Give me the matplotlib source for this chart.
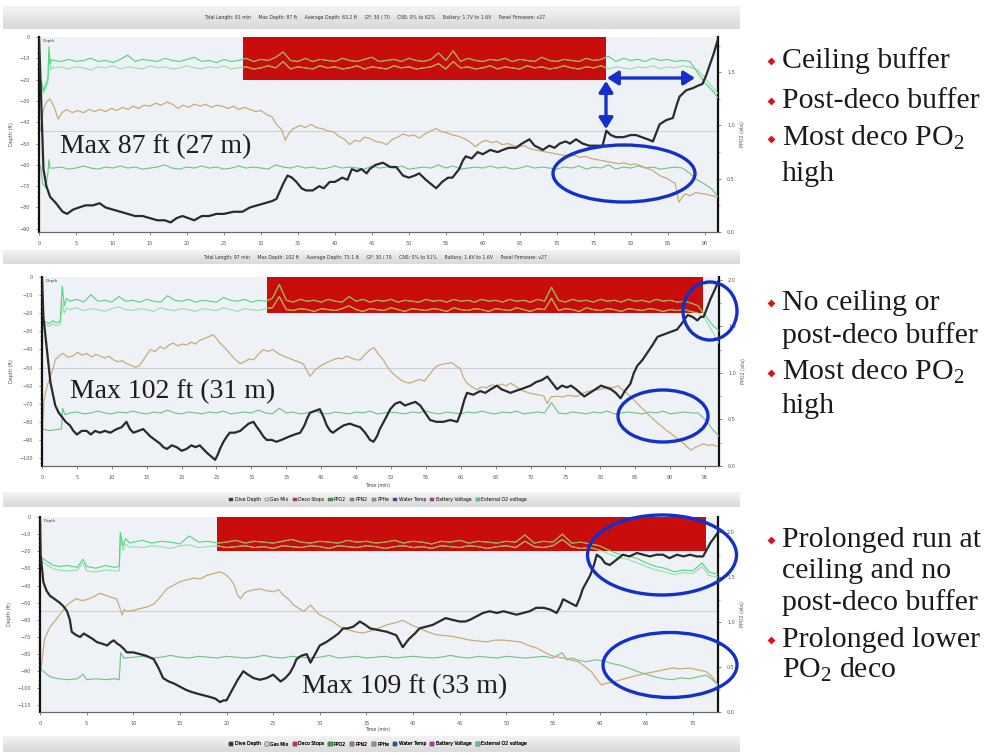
import numpy as np
import matplotlib
matplotlib.use('Agg')
import matplotlib.pyplot as plt
from matplotlib.patches import Rectangle, Ellipse, Patch
from matplotlib.ticker import MultipleLocator

plt.rcParams['mathtext.fontset'] = 'custom'
plt.rcParams['mathtext.rm'] = 'Liberation Serif'
plt.rcParams['mathtext.it'] = 'Liberation Serif:italic'
plt.rcParams['mathtext.default'] = 'rm'

# ------------------------------------------------------------------ DATA
HEADERS = [
    "Total Length: 91 min     Max Depth: 87 ft     Average Depth: 63.2 ft     GF: 30 / 70     CNS: 0% to 62%     Battery: 1.7V to 1.6V     Panel Firmware: v27",
    "Total Length: 97 min     Max Depth: 102 ft     Average Depth: 75.1 ft     GF: 30 / 70     CNS: 0% to 51%     Battery: 1.6V to 1.6V     Panel Firmware: v27",
]
LEGEND_LABELS = ["Dive Depth", "Gas Mix", "Deco Stops", "PPO2", "PPN2", "PPHe",
                 "Water Temp", "Battery Voltage", "External O2 voltage"]
LEGEND_COLORS = ["#333333", "#bcdcf4", "#d03030", "#2fa34a", "#a8884a", "#9a9a9a",
                 "#1f4fc0", "#c02cc0", "#66d68a"]
MAX_LABELS = ["Max 87 ft (27 m)", "Max 102 ft (31 m)", "Max 109 ft (33 m)"]
NOTES = [
    [("Ceiling buffer", True), ("Post-deco buffer", True), ("Most deco PO$_2$", True), ("high", False)],
    [("No ceiling or", True), ("post-deco buffer", False), ("Most deco PO$_2$", True), ("high", False)],
    [("Prolonged run at", True), ("ceiling and no", False), ("post-deco buffer", False),
     ("Prolonged lower", True), ("PO$_2$ deco", False)],
]
X_LABEL = "Time (min)"

# deco stop box: (start min, end min, stop depth ft)
P1_DECO = (27.6, 76.6, -20)
P2_DECO = (32.2, 94.7, -20)
P3_DECO = (19.0, 71.4, -20)

# ---- panel 1 (91 min dive)
P1_DEPTH = [(0, 0), (0.3, -30), (0.6, -62), (1.0, -70), (1.5, -75), (2.3, -78), (3.2, -82), (3.8, -83),
            (4.6, -81), (5.4, -80), (6.3, -79), (7.3, -79), (8.2, -78), (9.0, -80), (10.0, -81), (11.0, -82),
            (12.0, -83), (13.0, -84), (14.0, -84), (15.0, -85), (16.0, -86), (17.0, -86), (17.8, -87),
            (18.6, -85), (19.4, -84), (20.2, -85), (21.0, -86), (22.0, -84), (23.0, -84), (24.0, -83),
            (25.0, -83), (26.3, -82), (27.5, -82), (28.5, -80), (29.5, -79), (30.5, -78), (31.5, -77),
            (32.1, -76), (33.0, -69), (33.6, -65), (34.2, -66), (34.8, -68), (35.5, -71), (36.1, -72),
            (37.0, -72), (37.9, -70), (38.5, -71), (39.3, -68), (40.0, -68), (41.0, -66), (41.7, -67),
            (42.3, -62), (43.0, -63), (43.6, -62), (44.3, -64), (44.7, -62), (45.5, -60), (46.5, -59),
            (47.5, -61), (48.3, -61), (49.2, -65), (50.0, -66), (50.8, -65), (51.4, -64), (52.3, -67),
            (53.0, -69), (53.7, -71), (54.5, -68), (55.3, -66), (55.9, -66), (56.8, -62), (57.3, -58),
            (57.7, -56), (58.5, -57), (59.3, -54), (60.0, -55), (61.0, -53), (62.0, -54), (62.7, -53),
            (63.5, -52), (64.5, -52), (65.3, -50), (66.3, -48), (67.0, -51), (67.6, -52), (68.1, -53),
            (69.0, -51), (69.7, -52), (70.4, -50), (71.2, -49), (71.8, -50), (72.6, -48), (73.5, -50),
            (74.4, -51), (75.3, -51), (76.2, -51), (76.7, -44), (77.3, -46), (78.0, -47), (79.0, -47),
            (80.0, -46), (80.7, -46), (81.5, -47), (82.3, -48), (83.0, -49), (83.9, -41), (84.8, -39),
            (85.7, -38), (86.2, -32), (86.6, -28), (87.5, -25), (88.4, -24), (89.0, -23), (89.7, -22),
            (90.2, -18), (90.6, -14), (91.2, -8), (91.8, -1)]
P1_GA_START = [(0, 1.30), (0.3, 1.42), (0.6, 1.33), (0.9, 1.38), (1.2, 1.44), (1.35, 1.74), (1.5, 1.58), (1.7, 1.62)]
P1_GA_GRID = [1.61, 1.60, 1.62, 1.60, 1.61, 1.63, 1.60, 1.61, 1.59, 1.62,
              1.66, 1.60, 1.62, 1.61, 1.60, 1.63, 1.61, 1.60, 1.62, 1.64,
              1.60, 1.61, 1.59, 1.62, 1.60, 1.61, 1.63, 1.60, 1.62, 1.61,
              1.64, 1.69, 1.61, 1.60, 1.63, 1.60, 1.62, 1.61, 1.60, 1.63,
              1.61, 1.60, 1.62, 1.64, 1.60, 1.61, 1.62, 1.60, 1.63, 1.61,
              1.60, 1.62, 1.68, 1.61, 1.70, 1.60, 1.63, 1.61, 1.60, 1.62,
              1.61, 1.63, 1.60, 1.62, 1.61, 1.60, 1.64, 1.61, 1.60, 1.62,
              1.61, 1.60, 1.63, 1.61, 1.62, 1.65, 1.60, 1.63, 1.61, 1.62,
              1.60, 1.63, 1.61, 1.62, 1.60, 1.61, 1.60]
P1_GA_END = [(89, 1.50), (90, 1.40), (91, 1.33), (91.8, 1.26)]
P1_GB_START = [(0, 1.28), (0.3, 1.38), (0.6, 1.30), (0.9, 1.35), (1.2, 1.40), (1.4, 1.62), (1.6, 1.52), (1.8, 1.55)]
P1_GB_GRID = [1.54, 1.55, 1.53, 1.55, 1.54, 1.52, 1.55, 1.54, 1.56, 1.53,
              1.55, 1.54, 1.53, 1.56, 1.54, 1.55, 1.53, 1.54, 1.56, 1.54,
              1.53, 1.55, 1.54, 1.56, 1.53, 1.54, 1.55, 1.53, 1.54, 1.56,
              1.54, 1.60, 1.53, 1.55, 1.54, 1.53, 1.56, 1.54, 1.55, 1.53,
              1.54, 1.56, 1.53, 1.55, 1.54, 1.53, 1.56, 1.54, 1.55, 1.53,
              1.54, 1.55, 1.58, 1.53, 1.60, 1.54, 1.55, 1.53, 1.54, 1.56,
              1.53, 1.55, 1.54, 1.53, 1.56, 1.54, 1.55, 1.53, 1.54, 1.56,
              1.54, 1.53, 1.55, 1.54, 1.56, 1.53, 1.55, 1.54, 1.53, 1.55,
              1.54, 1.56, 1.53, 1.55, 1.54, 1.56, 1.55]
P1_GB_END = [(89, 1.52), (90, 1.45), (91, 1.36), (91.8, 1.30)]
P1_LOW_START = [(0.2, 0.62), (0.5, 0.45), (0.9, 0.42), (1.2, 0.55), (1.35, 0.68), (1.5, 0.60)]
P1_LOW_GRID = [0.60, 0.61, 0.59, 0.60, 0.62, 0.60, 0.59, 0.61, 0.60, 0.62,
               0.60, 0.61, 0.59, 0.60, 0.61, 0.63, 0.60, 0.59, 0.61, 0.60,
               0.62, 0.60, 0.61, 0.59, 0.60, 0.62, 0.60, 0.61, 0.60, 0.59,
               0.63, 0.61, 0.60, 0.62, 0.60, 0.61, 0.59, 0.60, 0.62, 0.60,
               0.61, 0.60, 0.59, 0.62, 0.60, 0.61, 0.60, 0.62, 0.59, 0.60,
               0.61, 0.60, 0.63, 0.60, 0.62, 0.59, 0.60, 0.61, 0.60, 0.62,
               0.60, 0.61, 0.59, 0.60, 0.62, 0.60, 0.61, 0.60, 0.59, 0.61,
               0.60, 0.62, 0.59, 0.61, 0.60, 0.63, 0.59, 0.61, 0.60, 0.62,
               0.60, 0.61, 0.59, 0.60, 0.61, 0.60]
P1_LOW_END = [(88, 0.55), (89, 0.49), (90, 0.45), (91, 0.40), (91.8, 0.33)]
P1_TAN = [(0.2, 0.95), (0.6, 1.15), (1.0, 1.22), (1.5, 1.25), (2.0, 1.18), (2.6, 1.06), (3.1, 1.12), (3.7, 1.15),
          (4.5, 1.12), (5.2, 1.14), (6.0, 1.12), (6.8, 1.15), (7.5, 1.13), (8.2, 1.15), (9.0, 1.13), (9.8, 1.16),
          (10.5, 1.14), (11.3, 1.17), (12.0, 1.15), (12.7, 1.18), (13.5, 1.16), (14.2, 1.19), (15.0, 1.18),
          (15.8, 1.21), (16.5, 1.19), (17.3, 1.22), (18.0, 1.20), (18.8, 1.16), (19.5, 1.19), (20.3, 1.17),
          (21.0, 1.20), (21.8, 1.18), (22.5, 1.20), (23.3, 1.17), (24.0, 1.19), (24.8, 1.18), (25.5, 1.16),
          (26.3, 1.18), (27.0, 1.15), (27.8, 1.17), (28.5, 1.15), (29.3, 1.13), (30.0, 1.14), (30.8, 1.10),
          (31.5, 1.08), (32.1, 1.01), (32.8, 0.96), (33.3, 0.86), (33.8, 0.93), (34.4, 0.97), (35.3, 1.00),
          (36.0, 0.98), (36.8, 1.01), (37.5, 0.98), (38.3, 0.97), (39.0, 0.95), (39.8, 0.94), (40.5, 0.90),
          (41.3, 0.87), (42.0, 0.82), (42.7, 0.86), (43.4, 0.85), (44.0, 0.89), (44.7, 0.88), (45.5, 0.85),
          (46.3, 0.84), (47.0, 0.82), (47.8, 0.87), (48.5, 0.89), (49.2, 0.92), (50.0, 0.90), (50.7, 0.91),
          (51.4, 0.88), (52.2, 0.92), (53.0, 0.95), (53.7, 0.97), (54.5, 0.94), (55.2, 0.93), (55.9, 0.91),
          (56.6, 0.90), (57.4, 0.88), (58.2, 0.85), (59.0, 0.80), (59.7, 0.84), (60.4, 0.86), (61.2, 0.84),
          (61.9, 0.85), (62.6, 0.82), (63.4, 0.83), (64.1, 0.81), (64.9, 0.80), (65.6, 0.81), (66.4, 0.78),
          (67.1, 0.77), (67.9, 0.76), (68.6, 0.75), (69.4, 0.74), (70.1, 0.73), (70.9, 0.72), (71.6, 0.71),
          (72.4, 0.72), (73.1, 0.70), (73.9, 0.71), (74.6, 0.69), (75.4, 0.68), (76.1, 0.67), (76.9, 0.66),
          (77.6, 0.65), (78.4, 0.64), (79.1, 0.65), (79.9, 0.63), (80.6, 0.64), (81.4, 0.62), (82.1, 0.60),
          (82.9, 0.58), (83.5, 0.55), (84.2, 0.52), (85.0, 0.50), (85.6, 0.47), (86.0, 0.46), (86.5, 0.28),
          (87.0, 0.33), (87.4, 0.36), (88.0, 0.34), (88.8, 0.37), (89.6, 0.36), (90.5, 0.35), (91.5, 0.33)]

# ---- panel 2 (97 min dive)
P2_DEPTH = [(0, 0), (0.2, -22), (0.7, -40), (1.2, -58), (1.9, -71), (2.4, -75), (2.8, -77), (3.4, -80), (4.0, -82),
            (4.5, -85), (5.0, -87), (5.7, -85), (6.4, -85), (7.0, -87), (7.6, -85), (8.3, -86), (9.0, -85),
            (9.8, -86), (10.7, -84), (11.4, -83), (12.1, -80), (12.6, -84), (13.1, -86), (13.8, -85), (14.5, -84),
            (15.0, -86), (15.5, -88), (16.2, -90), (16.9, -92), (17.4, -94), (17.9, -95), (18.6, -93), (19.3, -94),
            (20.0, -96), (20.7, -95), (21.4, -93), (22.0, -94), (22.6, -93), (23.1, -95), (23.6, -97), (24.2, -99),
            (24.8, -101), (25.2, -98), (25.5, -95), (26.0, -91), (26.5, -88), (26.9, -86), (27.6, -86),
            (28.4, -85), (29.0, -83), (29.6, -81), (30.3, -80), (30.8, -83), (31.2, -85), (31.7, -88), (32.2, -90),
            (32.9, -90), (33.6, -91), (34.3, -90), (34.9, -89), (35.5, -88), (36.2, -87), (37.0, -86), (37.6, -82),
            (38.0, -78), (38.4, -75), (39.1, -74), (39.8, -73), (40.3, -77), (40.8, -82), (41.3, -85), (41.7, -86),
            (42.4, -84), (43.2, -82), (44.1, -81), (44.8, -82), (45.6, -83), (46.3, -86), (47.0, -90), (47.5, -91),
            (48.0, -88), (48.4, -84), (49.1, -79), (49.9, -73), (50.6, -70), (51.3, -69), (52.0, -71), (52.7, -70),
            (53.5, -69), (54.2, -71), (54.9, -75), (55.6, -79), (56.5, -80), (57.5, -80), (58.5, -79), (59.5, -80),
            (60.0, -75), (60.5, -68), (60.9, -64), (61.8, -65), (62.8, -63), (63.5, -64), (64.3, -62), (65.2, -60),
            (65.8, -62), (66.5, -63), (67.1, -64), (67.8, -63), (68.6, -62), (69.3, -61), (70.0, -60), (70.8, -58),
            (71.6, -57), (72.4, -55), (73.0, -58), (73.8, -62), (74.5, -60), (75.2, -61), (75.8, -60), (76.5, -62),
            (77.1, -64), (77.7, -66), (78.5, -64), (79.3, -62), (80.1, -60), (80.8, -61), (81.5, -62), (82.2, -64),
            (82.9, -67), (83.5, -63), (84.3, -59), (84.8, -53), (85.3, -49), (86.0, -46), (86.7, -42), (87.4, -38),
            (88.2, -33), (88.9, -32), (89.6, -31), (90.3, -30), (91.0, -29), (91.8, -25), (92.5, -21), (93.2, -22),
            (93.9, -24), (94.4, -22), (94.8, -22), (95.3, -17), (95.8, -12), (96.4, -7), (97.0, -1.5)]
P2_GA_START = [(0, 1.52), (0.5, 1.55), (1.0, 1.53), (1.5, 1.56), (2.0, 1.54), (2.6, 1.55), (2.9, 1.93), (3.2, 1.72), (3.5, 1.80)]
P2_GA_GRID = [1.77, 1.79, 1.76, 1.84, 1.77, 1.78, 1.76, 1.82, 1.77, 1.78,
              1.76, 1.79, 1.77, 1.76, 1.83, 1.78, 1.77, 1.79, 1.76, 1.78,
              1.77, 1.76, 1.81, 1.78, 1.77, 1.79, 1.76, 1.78, 1.77, 1.80,
              1.95, 1.78, 1.76, 1.79, 1.77, 1.78, 1.76, 1.79, 1.77, 1.76,
              1.82, 1.77, 1.79, 1.76, 1.78, 1.77, 1.79, 1.76, 1.78, 1.77,
              1.76, 1.79, 1.77, 1.78, 1.76, 1.79, 1.77, 1.78, 1.76, 1.79,
              1.77, 1.78, 1.76, 1.79, 1.77, 1.78, 1.76, 1.79, 1.77, 1.92,
              1.78, 1.76, 1.79, 1.77, 1.78, 1.76, 1.79, 1.77, 1.78, 1.76,
              1.79, 1.77, 1.78, 1.76, 1.79, 1.77, 1.78, 1.76, 1.77, 1.75,
              1.72]
P2_GA_END = [(95, 1.62), (96, 1.52), (97, 1.45)]
P2_GB_START = [(0, 1.50), (0.5, 1.52), (1.0, 1.50), (1.5, 1.53), (2.0, 1.51), (2.6, 1.52), (2.9, 1.75), (3.2, 1.64), (3.5, 1.70)]
P2_GB_GRID = [1.68, 1.70, 1.67, 1.69, 1.68, 1.66, 1.69, 1.71, 1.68, 1.67,
              1.69, 1.68, 1.66, 1.70, 1.68, 1.67, 1.69, 1.68, 1.66, 1.69,
              1.68, 1.67, 1.70, 1.68, 1.66, 1.69, 1.68, 1.67, 1.69, 1.70,
              1.82, 1.68, 1.67, 1.69, 1.68, 1.66, 1.69, 1.68, 1.67, 1.69,
              1.72, 1.68, 1.66, 1.69, 1.68, 1.67, 1.70, 1.68, 1.66, 1.69,
              1.68, 1.67, 1.69, 1.68, 1.66, 1.70, 1.68, 1.67, 1.69, 1.68,
              1.66, 1.69, 1.68, 1.67, 1.70, 1.68, 1.66, 1.69, 1.68, 1.80,
              1.67, 1.69, 1.68, 1.66, 1.70, 1.68, 1.67, 1.69, 1.68, 1.66,
              1.69, 1.68, 1.67, 1.69, 1.68, 1.66, 1.68, 1.67, 1.68, 1.66,
              1.64]
P2_GB_END = [(95, 1.58), (96, 1.45), (97, 1.32)]
P2_LOW_START = [(0, 0.40), (1, 0.38), (2, 0.39), (2.8, 0.40), (2.95, 0.62), (3.3, 0.55)]
P2_LOW_GRID = [0.57, 0.58, 0.56, 0.57, 0.59, 0.57, 0.56, 0.58, 0.57, 0.59,
               0.57, 0.56, 0.58, 0.57, 0.60, 0.57, 0.56, 0.58, 0.57, 0.56,
               0.58, 0.57, 0.59, 0.56, 0.57, 0.58, 0.57, 0.60, 0.57, 0.56,
               0.62, 0.57, 0.58, 0.56, 0.57, 0.59, 0.57, 0.56, 0.58, 0.57,
               0.56, 0.58, 0.57, 0.59, 0.56, 0.57, 0.58, 0.57, 0.56, 0.58,
               0.57, 0.59, 0.57, 0.56, 0.58, 0.57, 0.56, 0.58, 0.57, 0.59,
               0.57, 0.56, 0.58, 0.57, 0.59, 0.56, 0.57, 0.58, 0.57, 0.68,
               0.57, 0.56, 0.58, 0.57, 0.56, 0.58, 0.57, 0.59, 0.56, 0.57,
               0.58, 0.57, 0.56, 0.58, 0.57, 0.59, 0.56, 0.57, 0.58, 0.57,
               0.57]
P2_LOW_END = [(95, 0.50), (96, 0.40), (97, 0.32)]
P2_TAN = [(0.0, 0.30), (0.3, 0.71), (0.7, 0.85), (1.2, 0.96), (1.6, 1.05), (1.9, 1.14), (2.4, 1.18), (3.0, 1.21),
          (3.7, 1.17), (4.4, 1.18), (5.1, 1.22), (5.8, 1.19), (6.4, 1.21), (7.1, 1.17), (7.7, 1.20), (8.3, 1.18),
          (9.0, 1.16), (9.6, 1.18), (10.2, 1.14), (10.9, 1.12), (11.5, 1.13), (12.1, 1.10), (12.8, 1.08),
          (13.4, 1.06), (14.0, 1.08), (14.7, 1.16), (15.5, 1.25), (16.2, 1.23), (16.9, 1.28), (17.6, 1.26),
          (18.2, 1.30), (18.8, 1.32), (19.5, 1.29), (20.1, 1.31), (20.7, 1.30), (21.4, 1.33), (22.0, 1.31),
          (22.6, 1.35), (23.3, 1.37), (23.9, 1.39), (24.5, 1.41), (25.0, 1.37), (25.5, 1.32), (26.2, 1.27),
          (26.9, 1.21), (27.6, 1.15), (28.4, 1.10), (29.0, 1.12), (29.7, 1.15), (30.3, 1.14), (31.0, 1.20),
          (31.7, 1.25), (32.4, 1.23), (33.1, 1.25), (33.8, 1.21), (34.6, 1.18), (35.3, 1.16), (36.0, 1.14),
          (36.7, 1.12), (37.4, 1.10), (38.0, 1.02), (38.4, 0.96), (39.1, 1.03), (39.8, 1.07), (40.5, 1.10),
          (41.1, 1.12), (41.7, 1.14), (42.4, 1.16), (43.0, 1.15), (43.6, 1.18), (44.3, 1.16), (45.0, 1.14),
          (45.6, 1.14), (46.3, 1.20), (47.0, 1.25), (47.6, 1.27), (48.2, 1.20), (48.9, 1.14), (49.6, 1.05),
          (50.2, 1.00), (50.8, 0.96), (51.5, 0.92), (52.1, 0.90), (52.7, 0.89), (53.4, 0.91), (54.1, 0.93),
          (54.8, 0.91), (55.5, 0.98), (56.1, 1.04), (56.5, 1.07), (57.2, 1.09), (57.9, 1.10), (58.5, 1.11),
          (58.9, 1.10), (59.4, 1.07), (59.9, 1.05), (60.4, 0.95), (60.9, 0.89), (61.6, 0.85), (62.3, 0.82),
          (63.0, 0.85), (63.7, 0.84), (64.4, 0.87), (65.2, 0.86), (65.9, 0.88), (66.5, 0.86), (67.1, 0.89),
          (67.8, 0.86), (68.5, 0.82), (69.2, 0.80), (70.0, 0.78), (70.7, 0.77), (71.4, 0.76), (71.9, 0.75),
          (72.4, 0.67), (72.9, 0.74), (73.8, 0.75), (74.6, 0.74), (75.4, 0.76), (76.1, 0.75), (76.7, 0.75),
          (77.5, 0.78), (78.2, 0.80), (79.0, 0.81), (79.6, 0.82), (80.4, 0.83), (81.1, 0.85), (81.8, 0.84),
          (82.5, 0.86), (83.2, 0.82), (83.8, 0.78), (84.3, 0.75), (84.8, 0.71), (85.3, 0.67), (85.8, 0.63),
          (86.3, 0.60), (86.9, 0.55), (87.5, 0.51), (88.2, 0.46), (88.9, 0.42), (89.5, 0.38), (90.1, 0.35),
          (90.8, 0.31), (91.4, 0.27), (92.0, 0.24), (92.5, 0.20), (93.0, 0.17), (93.6, 0.20), (94.2, 0.22),
          (94.8, 0.24), (95.4, 0.22), (96.0, 0.23), (96.7, 0.21)]

# ---- panel 3 (73 min dive)
P3_DEPTH = [(0, -1), (0.07, -22), (0.36, -38), (0.7, -43), (1.07, -46), (1.6, -48), (2.1, -50), (2.5, -52),
            (2.9, -55), (3.2, -60), (3.4, -67), (3.9, -69), (4.3, -70), (4.7, -68), (5.0, -69), (5.6, -71),
            (6.1, -73), (6.7, -74), (7.2, -75), (7.6, -73), (7.9, -72), (8.3, -74), (8.6, -75), (9.0, -77),
            (9.3, -79), (10.0, -79), (10.7, -80), (11.4, -81), (12.2, -83), (12.7, -88), (13.2, -94), (13.8, -96),
            (14.3, -97), (15.0, -99), (15.7, -101), (16.2, -102), (16.8, -103), (17.5, -104), (18.2, -105),
            (18.8, -106), (19.3, -108), (19.7, -107), (20.0, -107), (20.4, -103), (20.7, -100), (21.2, -95),
            (21.8, -90), (22.3, -92), (22.9, -94), (23.6, -95), (24.3, -94), (25.0, -92), (25.4, -94),
            (25.8, -96), (26.3, -94), (26.8, -91), (27.2, -87), (27.5, -83), (28.0, -81), (28.6, -80),
            (29.0, -85), (29.5, -80), (30.0, -75), (30.7, -73), (31.5, -70), (32.0, -68), (32.5, -65),
            (33.0, -65), (33.6, -64), (34.3, -61), (34.9, -63), (35.4, -65), (36.3, -66), (37.2, -67),
            (37.7, -68), (38.2, -69), (38.6, -73), (38.9, -76), (39.3, -73), (39.6, -71), (40.2, -68),
            (40.7, -65), (41.4, -64), (42.1, -63), (42.8, -61), (43.5, -59), (44.2, -60), (45.0, -61),
            (45.6, -61), (46.1, -60), (46.8, -58), (47.5, -56), (48.2, -55), (49.0, -56), (49.7, -55),
            (50.4, -56), (51.1, -57), (51.8, -56), (52.5, -55), (53.2, -53), (54.0, -53), (54.7, -54),
            (55.4, -56), (55.8, -52), (56.1, -48), (56.8, -50), (57.5, -52), (57.9, -47), (58.2, -42),
            (58.6, -38), (59.0, -34), (59.4, -28), (59.7, -22), (60.2, -24), (60.6, -27), (61.1, -28),
            (61.8, -25), (62.5, -22), (63.2, -23), (64.0, -21), (64.7, -22), (65.4, -23), (66.1, -22),
            (66.8, -22), (67.5, -24), (68.3, -22), (69.0, -23), (69.7, -22), (70.4, -23), (71.1, -23),
            (71.5, -19), (71.9, -15), (72.3, -12), (72.7, -9)]
P3_GA_START = [(0, 1.74), (0.4, 1.70), (1.0, 1.66), (1.5, 1.63), (2.0, 1.62), (3, 1.63), (4, 1.61), (4.6, 1.70),
               (5, 1.62), (6, 1.60), (7, 1.63), (8, 1.61), (8.5, 1.62), (8.6, 2.00), (8.9, 1.85), (9.2, 1.93), (9.6, 1.88)]
P3_GA_GRID = [1.89, 1.91, 1.88, 1.90, 1.89, 1.87, 1.96, 1.89, 1.90, 1.88,
              1.89, 1.91, 1.88, 1.90, 1.89, 1.88, 1.90, 1.92, 1.89, 1.88,
              1.90, 1.89, 1.88, 1.91, 1.89, 1.90, 1.88, 1.89, 1.91, 1.88,
              1.90, 1.89, 1.87, 1.90, 1.89, 1.91, 1.88, 1.90, 1.89, 1.88,
              1.90, 1.89, 1.97, 1.88, 1.90, 1.89, 1.98, 1.88, 1.89, 1.87]
P3_GA_END = [(60, 1.85), (61, 1.80), (62, 1.76), (63, 1.74), (64, 1.71), (65, 1.66), (66, 1.62), (67, 1.60),
             (68, 1.56), (69, 1.58), (70, 1.57), (71, 1.66), (71.7, 1.56), (72.7, 1.53)]
P3_GB_START = [(0, 1.70), (0.4, 1.66), (1.0, 1.62), (1.5, 1.59), (2.0, 1.58), (3, 1.57), (4, 1.58), (4.6, 1.66),
               (5, 1.57), (6, 1.56), (7, 1.58), (8, 1.57), (8.5, 1.57), (8.65, 1.95), (8.9, 1.80), (9.2, 1.87), (9.6, 1.83)]
P3_GB_GRID = [1.84, 1.83, 1.85, 1.84, 1.82, 1.85, 1.86, 1.83, 1.84, 1.85,
              1.83, 1.84, 1.85, 1.83, 1.84, 1.82, 1.85, 1.84, 1.83, 1.85,
              1.84, 1.82, 1.85, 1.84, 1.83, 1.85, 1.84, 1.82, 1.84, 1.85,
              1.83, 1.84, 1.82, 1.85, 1.84, 1.83, 1.85, 1.84, 1.82, 1.84,
              1.85, 1.83, 1.90, 1.84, 1.83, 1.85, 1.92, 1.84, 1.82, 1.83]
P3_GB_END = [(60, 1.80), (61, 1.76), (62, 1.72), (63, 1.70), (64, 1.66), (65, 1.62), (66, 1.58), (67, 1.56),
             (68, 1.53), (69, 1.55), (70, 1.54), (71, 1.62), (71.7, 1.52), (72.7, 1.50)]
P3_LOW_START = [(0, 0.49), (0.5, 0.44), (1.1, 0.39), (2, 0.37), (3, 0.36), (4, 0.37), (4.6, 0.42), (5, 0.36),
                (6, 0.37), (7, 0.36), (8, 0.37), (8.5, 0.36), (8.65, 0.66), (9.0, 0.60)]
P3_LOW_GRID = [0.61, 0.62, 0.60, 0.61, 0.63, 0.61, 0.60, 0.62, 0.61, 0.60,
               0.62, 0.61, 0.60, 0.61, 0.63, 0.61, 0.60, 0.62, 0.61, 0.60,
               0.61, 0.63, 0.60, 0.61, 0.62, 0.60, 0.61, 0.62, 0.60, 0.61,
               0.62, 0.61, 0.60, 0.61, 0.63, 0.61, 0.60, 0.62, 0.61, 0.60,
               0.62, 0.61, 0.60, 0.61, 0.62, 0.60]
P3_LOW_END = [(56, 0.66), (56.5, 0.58), (57, 0.60), (58, 0.57), (58.6, 0.56), (59.5, 0.58), (60.4, 0.57),
              (61.3, 0.54), (62.2, 0.52), (63.1, 0.49), (64.1, 0.45), (65, 0.42), (66, 0.39), (66.9, 0.37),
              (67.8, 0.36), (68.7, 0.38), (69.6, 0.37), (70.5, 0.39), (71.4, 0.41), (72, 0.37), (72.7, 0.30)]
P3_TAN = [(0, 0.40), (0.2, 0.56), (0.5, 0.82), (1.1, 0.95), (1.8, 1.04), (2.4, 1.12), (2.9, 1.19), (3.4, 1.23),
          (3.9, 1.26), (4.5, 1.24), (5.0, 1.25), (5.7, 1.28), (6.4, 1.32), (7.0, 1.30), (7.5, 1.28), (8.2, 1.26),
          (8.6, 1.15), (8.8, 1.08), (9.0, 1.14), (9.3, 1.12), (10.0, 1.13), (10.7, 1.15), (11.5, 1.17),
          (12.2, 1.20), (12.9, 1.28), (13.6, 1.37), (14.3, 1.41), (15.0, 1.45), (15.7, 1.47), (16.5, 1.49),
          (17.2, 1.48), (17.9, 1.52), (18.6, 1.54), (19.3, 1.56), (19.9, 1.53), (20.4, 1.48), (20.8, 1.42),
          (21.2, 1.30), (21.5, 1.26), (21.9, 1.32), (22.2, 1.34), (22.9, 1.36), (23.6, 1.37), (24.3, 1.35),
          (25.0, 1.34), (25.6, 1.36), (26.1, 1.30), (26.7, 1.25), (27.2, 1.19), (27.8, 1.15), (28.3, 1.12),
          (29.0, 1.19), (29.5, 1.13), (30.0, 1.08), (30.8, 1.04), (31.5, 1.00), (32.0, 0.96), (32.5, 0.93),
          (33.2, 0.91), (33.9, 0.89), (34.6, 0.88), (35.4, 0.90), (36.2, 0.93), (37.2, 0.97), (38.0, 0.99),
          (38.9, 1.02), (39.8, 0.97), (40.7, 0.93), (41.6, 0.89), (42.5, 0.86), (43.4, 0.85), (44.3, 0.84),
          (45.2, 0.82), (46.1, 0.80), (47.0, 0.79), (47.9, 0.78), (48.8, 0.80), (49.7, 0.80), (50.6, 0.79),
          (51.5, 0.78), (52.4, 0.74), (53.3, 0.71), (54.0, 0.67), (54.8, 0.63), (55.5, 0.61), (56.2, 0.60),
          (56.9, 0.58), (57.7, 0.56), (58.4, 0.51), (59.1, 0.45), (59.6, 0.38), (60.2, 0.30), (60.7, 0.32),
          (61.3, 0.33), (62.0, 0.35), (62.7, 0.37), (63.4, 0.39), (64.1, 0.41), (65.0, 0.43), (66.0, 0.45),
          (66.9, 0.47), (67.8, 0.49), (68.7, 0.48), (69.6, 0.49), (70.5, 0.47), (71.4, 0.45), (72.0, 0.40),
          (72.7, 0.30)]

# ------------------------------------------------------------------ STYLE / LAYOUT
W, H = 989, 755
BG = '#eef2f6'
RED = '#c90d0d'
BLUE = '#1430c8'
C_DEPTH = '#2a2a2a'
C_GA = '#52d47f'
C_GB = '#8ee3a8'
C_LOW = '#6cc383'
C_TAN = '#c9ab78'
C_OLIVE = '#b5a24c'
C_TANO = '#c8a860'
SERIF = 'Liberation Serif'


def pairs(p):
    return [a for a, _ in p], [b for _, b in p]


def joined(start, t0, grid, end):
    t = [a for a, _ in start] + [t0 + i for i in range(len(grid))] + [a for a, _ in end]
    v = [b for _, b in start] + list(grid) + [b for _, b in end]
    return t, v


PANELS = [
    dict(box=(39, 37, 718, 232), tmax=91.8, dmin=-91.5, vmax=1.83, deco=P1_DECO, depth=pairs(P1_DEPTH),
         ga=joined(P1_GA_START, 2, P1_GA_GRID, P1_GA_END), gb=joined(P1_GB_START, 2, P1_GB_GRID, P1_GB_END),
         low=joined(P1_LOW_START, 2, P1_LOW_GRID, P1_LOW_END), tan=pairs(P1_TAN)),
    dict(box=(42, 277, 719, 466), tmax=97.0, dmin=-104.4, vmax=2.03, deco=P2_DECO, depth=pairs(P2_DEPTH),
         ga=joined(P2_GA_START, 4, P2_GA_GRID, P2_GA_END), gb=joined(P2_GB_START, 4, P2_GB_GRID, P2_GB_END),
         low=joined(P2_LOW_START, 4, P2_LOW_GRID, P2_LOW_END), tan=pairs(P2_TAN)),
    dict(box=(40, 517, 718, 712), tmax=72.7, dmin=-113.8, vmax=2.17, deco=P3_DECO, depth=pairs(P3_DEPTH),
         ga=joined(P3_GA_START, 10, P3_GA_GRID, P3_GA_END), gb=joined(P3_GB_START, 10, P3_GB_GRID, P3_GB_END),
         low=joined(P3_LOW_START, 10, P3_LOW_GRID, P3_LOW_END), tan=pairs(P3_TAN)),
]

fig = plt.figure(figsize=(W / 100, H / 100), dpi=100)
fig.patch.set_facecolor('white')


def draw_panel(p):
    l, t, r, b = p['box']
    ax = fig.add_axes([l / W, 1 - b / H, (r - l) / W, (b - t) / H])
    ax2 = ax.twinx()
    ax.set_zorder(ax2.get_zorder() + 1)
    ax.patch.set_visible(False)
    ax2.patch.set_visible(True)
    ax2.set_facecolor(BG)
    ax.set_xlim(0, p['tmax'])
    ax.set_ylim(p['dmin'], 0)
    ax2.set_ylim(0, p['vmax'])

    ax2.axhline(p['vmax'] * 0.52, color='#cdd2d8', lw=0.8, zorder=1)

    t0, t1, dstop = p['deco']
    box = Rectangle((t0, dstop), t1 - t0, -dstop, transform=ax.transData,
                    facecolor=RED, edgecolor='none', zorder=2)
    ax2.add_patch(box)

    for key, col, ocol, lw in [('gb', C_GB, C_OLIVE, 0.8), ('ga', C_GA, C_OLIVE, 0.8),
                               ('low', C_LOW, C_OLIVE, 0.8), ('tan', C_TAN, C_TANO, 0.9)]:
        tt, vv = p[key]
        ax2.plot(tt, vv, color=col, lw=lw, zorder=3)
        ln, = ax2.plot(tt, vv, color=ocol, lw=lw, zorder=4)
        ln.set_clip_path(box)

    dt, dv = p['depth']
    ax.plot(dt, dv, color=C_DEPTH, lw=1.6, zorder=5, solid_joinstyle='round')

    for a in (ax, ax2):
        a.spines['top'].set_visible(False)
        a.spines['bottom'].set_color('#666666')
        a.spines['bottom'].set_linewidth(0.8)
    ax.spines['right'].set_visible(False)
    ax2.spines['left'].set_visible(False)
    ax.spines['left'].set_linewidth(1.6)
    ax.spines['left'].set_color('#111111')
    ax2.spines['right'].set_linewidth(1.6)
    ax2.spines['right'].set_color('#111111')

    ax.xaxis.set_major_locator(MultipleLocator(5))
    ax.yaxis.set_major_locator(MultipleLocator(10))
    ax.yaxis.set_minor_locator(MultipleLocator(2.5))
    ax2.yaxis.set_major_locator(MultipleLocator(0.5))
    ax2.yaxis.set_minor_locator(MultipleLocator(0.25))
    ax.tick_params(axis='both', which='major', labelsize=3.5, labelcolor='#555555', length=2.5,
                   width=0.5, color='#555555', pad=4)
    ax.tick_params(axis='y', which='minor', length=1.5, width=0.4, color='#555555')
    ax2.tick_params(axis='y', which='major', labelsize=3.5, labelcolor='#555555', length=2.5,
                    width=0.5, color='#555555', pad=4)
    ax2.tick_params(axis='y', which='minor', length=1.5, width=0.4, color='#555555')
    ax.set_ylabel('Depth (ft)', fontsize=3.5, color='#555555', labelpad=4)
    ax2.set_ylabel('PPO2 (ata)', fontsize=3.5, color='#555555', labelpad=4)
    ax.text(0.006, 0.99, 'Depth', transform=ax.transAxes, fontsize=3, color='#444444', va='top')
    return ax


axes = [draw_panel(p) for p in PANELS]

# ------------------------------------------------------------------ overlay (bars, notes, marks)
ov = fig.add_axes([0, 0, 1, 1], zorder=20)
ov.patch.set_visible(False)
ov.axis('off')

grad = np.array([[0.95], [0.90], [0.86]])


def bar(y0, y1):
    ov.imshow(np.repeat(grad[:, :, None], 3, axis=2), extent=(3, 740, y1, y0), aspect='auto',
              interpolation='bicubic', zorder=1)


bar(6, 29)
ov.text(375, 17.5, HEADERS[0], fontsize=3.3, color='#333333', ha='center', va='center', zorder=2)
bar(250, 264)
ov.text(375, 257, HEADERS[1], fontsize=3.3, color='#333333', ha='center', va='center', zorder=2)

handles = [Patch(facecolor=c, edgecolor='#555555', lw=0.3) for c in LEGEND_COLORS]
for yb, yl, ytime in [(492, 507, 486), (736, 752, 729)]:
    bar(yb, yl)
    ov.text(378, ytime, X_LABEL, fontsize=3.3, color='#444444', ha='center', va='center')
    lg = ov.legend(handles, LEGEND_LABELS, loc='center', bbox_to_anchor=(378, (yb + yl) / 2),
                   bbox_transform=ov.transData, ncol=9, fontsize=3.3, frameon=False,
                   handlelength=0.9, handleheight=0.9, columnspacing=0.9, handletextpad=0.3)
    ov.add_artist(lg)

# max-depth labels
for (x, yb), txt in zip([(60, 153), (70, 398), (302, 693)], MAX_LABELS):
    ov.text(x, yb, txt, fontsize=20, family=SERIF, color='#1e1e1e', va='baseline', ha='left', zorder=5)

# side notes
note_baselines = [[68, 108, 146, 181], [310, 343, 380, 413], [547, 578, 610, 647, 678]]
for lines, ys in zip(NOTES, note_baselines):
    for (txt, bullet), yb in zip(lines, ys):
        ov.text(782, yb, txt, fontsize=21.5, family=SERIF, color='#1a1a1a', va='baseline', ha='left')
        if bullet:
            ov.scatter([771], [yb - 7], marker='D', s=16, color='#e01018', zorder=6, linewidths=0)

# blue highlight marks
for cx, cy, w, h in [(624, 173.5, 142, 57), (710, 311, 54, 58), (663, 416, 90, 52),
                     (662, 555, 149, 80), (670, 665, 134, 65)]:
    ov.add_patch(Ellipse((cx, cy), w, h, fill=False, edgecolor=BLUE, lw=2.4, zorder=8))

arrow = dict(arrowstyle='<|-|>,head_length=0.55,head_width=0.35', color=BLUE, lw=2.4,
             shrinkA=0, shrinkB=0, mutation_scale=12)
ov.annotate('', xy=(606, 129), xytext=(606, 81), arrowprops=arrow, zorder=9)
ov.annotate('', xy=(695, 78), xytext=(607, 78), arrowprops=arrow, zorder=9)

ov.set_xlim(0, W)
ov.set_ylim(H, 0)

fig.savefig('out.png', dpi=100, facecolor='white')
